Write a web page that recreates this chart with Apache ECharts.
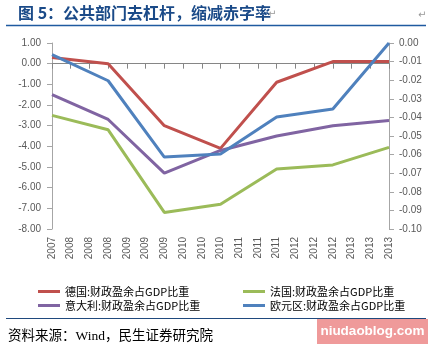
<!DOCTYPE html>
<html>
<head>
<meta charset="utf-8">
<script src="https://cdn.jsdelivr.net/npm/echarts@6/dist/echarts.min.js"></script>
<style>
  html, body { margin: 0; padding: 0; background: #fff; }
  #chart { width: 433px; height: 348px; }
</style>
</head>
<body>
<div id="chart"></div>
<script>
// Axis labels along the time axis (Excel-style date axis, three slots per year)
var categories = ['2007', '2008', '2008', '2008', '2009', '2009', '2009',
  '2010', '2010', '2010', '2011', '2011', '2011', '2012', '2012', '2012',
  '2013', '2013', '2013'];
// Slot index where each annual observation sits
var yearSlots = [0, 3, 6, 9, 12, 15, 18];
var years = ['2007', '2008', '2009', '2010', '2011', '2012', '2013'];

// Budget balance, % of GDP (left axis)
var germany = [0.3, 0.0, -3.0, -4.1, -0.9, 0.1, 0.1];
var france = [-2.5, -3.2, -7.2, -6.8, -5.1, -4.9, -4.05];
var italy = [-1.5, -2.7, -5.3, -4.2, -3.5, -3.0, -2.75];
// Euro area budget balance, share of GDP (right axis)
var euroArea = [-0.0063, -0.0203, -0.0613, -0.0597, -0.0398, -0.0355, 0.0];

var seriesNames = ['德国:财政盈余占GDP比重', '法国:财政盈余占GDP比重',
  '意大利:财政盈余占GDP比重', '欧元区:财政盈余占GDP比重'];
var colors = ['#C0504D', '#9BBB59', '#8064A2', '#4F81BD'];

function spread(values) {
  var out = categories.map(function () { return null; });
  yearSlots.forEach(function (slot, i) { out[slot] = values[i]; });
  return out;
}

function fmt(v) {
  if (Math.abs(v) < 1e-9) return '0.00';
  return v.toFixed(2);
}

var labelFont = { fontFamily: 'Liberation Sans', fontSize: 10, color: '#595959' };
var legendText = { fontFamily: 'Noto Sans CJK SC', fontSize: 11, color: '#000' };

function legendAt(name, left, top) {
  return {
    data: [name], left: left, top: top, icon: 'rect',
    itemWidth: 22, itemHeight: 3, itemGap: 0, padding: 0,
    textStyle: legendText, selectedMode: false
  };
}

var chart = echarts.init(document.getElementById('chart'), null, { renderer: 'canvas' });

var dataSets = [germany, france, italy, euroArea];

chart.setOption({
  animation: false,
  backgroundColor: '#fff',
  grid: { left: 52, right: 44, top: 43, bottom: 119, containLabel: false },
  legend: [
    legendAt(seriesNames[0], 38, 286),
    legendAt(seriesNames[1], 243, 286),
    legendAt(seriesNames[2], 38, 300),
    legendAt(seriesNames[3], 243, 300)
  ],
  xAxis: [
    {
      type: 'category', data: categories, boundaryGap: false, position: 'bottom',
      axisLine: { onZero: true, onZeroAxisIndex: 0, lineStyle: { color: '#868686', width: 1 } },
      axisTick: { show: true, interval: 0, length: 5, lineStyle: { color: '#868686' } },
      axisLabel: { show: false },
      splitLine: { show: false }
    },
    {
      type: 'category', data: categories, boundaryGap: false, position: 'bottom',
      axisLine: { show: false, onZero: false },
      axisTick: { show: false },
      axisLabel: Object.assign({ interval: 0, rotate: 90, margin: 8 }, labelFont),
      splitLine: { show: false }
    }
  ],
  yAxis: [
    {
      type: 'value', min: -8, max: 1, interval: 1, position: 'left',
      axisLine: { show: true, lineStyle: { color: '#a6a6a6' } },
      axisTick: { show: true, length: 5, lineStyle: { color: '#a6a6a6' } },
      axisLabel: Object.assign({ margin: 11, formatter: fmt }, labelFont),
      splitLine: { show: false }
    },
    {
      type: 'value', min: -0.1, max: 0, interval: 0.01, position: 'right',
      axisLine: { show: true, lineStyle: { color: '#a6a6a6' } },
      axisTick: { show: true, length: 5, lineStyle: { color: '#a6a6a6' } },
      axisLabel: Object.assign({ margin: 10, formatter: fmt }, labelFont),
      splitLine: { show: false }
    }
  ],
  series: dataSets.map(function (vals, i) {
    return {
      name: seriesNames[i], type: 'line',
      xAxisIndex: 0, yAxisIndex: i === 3 ? 1 : 0,
      data: spread(vals), connectNulls: true,
      showSymbol: false, symbol: 'none',
      lineStyle: { color: colors[i], width: 3 },
      itemStyle: { color: colors[i] },
      z: 3 + i
    };
  }),
  graphic: [
    { type: 'text', left: 18, top: 5,
      style: { text: '图 5：公共部门去杠杆，缩减赤字率', fill: '#1A4A88',
        font: 'bold 16px "Noto Sans CJK SC"' } },
    { type: 'text', left: 268, top: 9,
      style: { text: '↵', fill: '#999', font: '10px "DejaVu Sans"' } },
    { type: 'text', left: 418, top: 10,
      style: { text: '↵', fill: '#999', font: '10px "DejaVu Sans"' } },
    { type: 'line', shape: { x1: 6, y1: 25.5, x2: 426, y2: 25.5 },
      style: { stroke: '#1F5AA0', lineWidth: 1.5 } },
    { type: 'line', shape: { x1: 6, y1: 318.5, x2: 426, y2: 318.5 },
      style: { stroke: '#1F497D', lineWidth: 1 } },
    { type: 'text', left: 8, top: 330,
      style: { text: '资料来源：Wind，民生证券研究院', fill: '#000',
        font: '13.5px "Liberation Serif", "Noto Sans CJK SC"' } },
    { type: 'rect', shape: { x: 317, y: 319, width: 111, height: 25 },
      style: { fill: '#EF9A9A' } },
    { type: 'text', x: 372.5, y: 331.5,
      style: { text: 'niudaoblog.com', fill: '#fff', align: 'center', verticalAlign: 'middle',
        font: 'bold 13.5px "Liberation Sans"' } }
  ]
});
</script>
</body>
</html>
